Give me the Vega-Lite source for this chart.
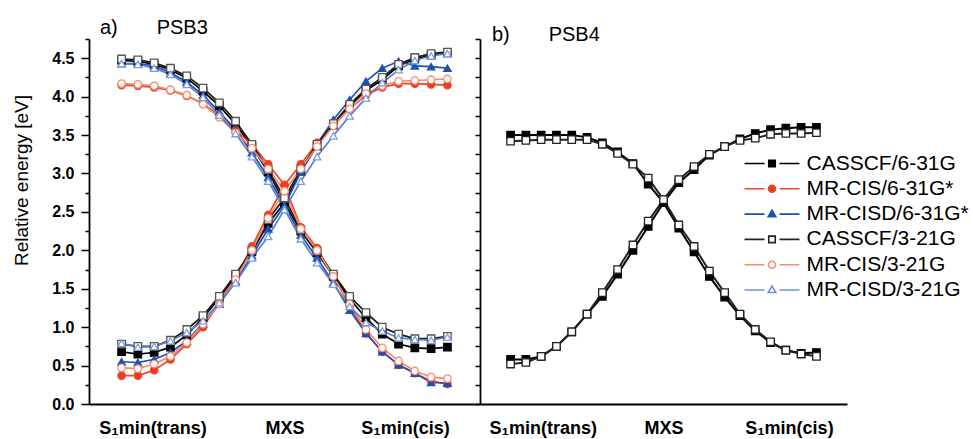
{
"$schema": "https://vega.github.io/schema/vega-lite/v6.json",
"padding": {"left": 12, "top": 18, "right": 5, "bottom": 5},
"config": {
  "font": "Liberation Sans",
  "view": {"stroke": null},
  "axis": {"grid": false, "domainColor": "#000", "domainWidth": 1.8, "tickColor": "#000", "tickWidth": 1.5, "labelColor": "#000", "titleColor": "#000", "labelFont": "Liberation Sans", "titleFont": "Liberation Sans"},
  "title": {"fontSize": 20, "fontWeight": "normal", "color": "#000", "anchor": "start", "frame": "group", "font": "Liberation Sans"},
  "legend": {"orient": "none", "legendX": 259, "legendY": 114, "padding": 0, "labelFontSize": 21, "labelFont": "Liberation Sans", "labelColor": "#000", "symbolSize": 100, "symbolStrokeWidth": 1.6, "symbolOffset": 22.5, "labelOffset": 24, "rowPadding": 3.3, "labelLimit": 300}
},
"datasets": {
"a": [
{"m":"CASSCF/6-31G","c":"A","i":0,"e":4.47},{"m":"CASSCF/6-31G","c":"A","i":1,"e":4.46},{"m":"CASSCF/6-31G","c":"A","i":2,"e":4.42},{"m":"CASSCF/6-31G","c":"A","i":3,"e":4.35},{"m":"CASSCF/6-31G","c":"A","i":4,"e":4.24},{"m":"CASSCF/6-31G","c":"A","i":5,"e":4.07},{"m":"CASSCF/6-31G","c":"A","i":6,"e":3.88},{"m":"CASSCF/6-31G","c":"A","i":7,"e":3.64},{"m":"CASSCF/6-31G","c":"A","i":8,"e":3.35},{"m":"CASSCF/6-31G","c":"A","i":9,"e":3.02},{"m":"CASSCF/6-31G","c":"A","i":10,"e":2.62},{"m":"CASSCF/6-31G","c":"A","i":11,"e":2.25},{"m":"CASSCF/6-31G","c":"A","i":12,"e":1.97},{"m":"CASSCF/6-31G","c":"A","i":13,"e":1.66},{"m":"CASSCF/6-31G","c":"A","i":14,"e":1.37},{"m":"CASSCF/6-31G","c":"A","i":15,"e":1.12},{"m":"CASSCF/6-31G","c":"A","i":16,"e":0.91},{"m":"CASSCF/6-31G","c":"A","i":17,"e":0.78},{"m":"CASSCF/6-31G","c":"A","i":18,"e":0.73},{"m":"CASSCF/6-31G","c":"A","i":19,"e":0.72},{"m":"CASSCF/6-31G","c":"A","i":20,"e":0.74},
{"m":"CASSCF/6-31G","c":"B","i":0,"e":0.68},{"m":"CASSCF/6-31G","c":"B","i":1,"e":0.65},{"m":"CASSCF/6-31G","c":"B","i":2,"e":0.67},{"m":"CASSCF/6-31G","c":"B","i":3,"e":0.74},{"m":"CASSCF/6-31G","c":"B","i":4,"e":0.90},{"m":"CASSCF/6-31G","c":"B","i":5,"e":1.12},{"m":"CASSCF/6-31G","c":"B","i":6,"e":1.38},{"m":"CASSCF/6-31G","c":"B","i":7,"e":1.67},{"m":"CASSCF/6-31G","c":"B","i":8,"e":1.98},{"m":"CASSCF/6-31G","c":"B","i":9,"e":2.35},{"m":"CASSCF/6-31G","c":"B","i":10,"e":2.62},{"m":"CASSCF/6-31G","c":"B","i":11,"e":3.03},{"m":"CASSCF/6-31G","c":"B","i":12,"e":3.36},{"m":"CASSCF/6-31G","c":"B","i":13,"e":3.63},{"m":"CASSCF/6-31G","c":"B","i":14,"e":3.88},{"m":"CASSCF/6-31G","c":"B","i":15,"e":4.08},{"m":"CASSCF/6-31G","c":"B","i":16,"e":4.22},{"m":"CASSCF/6-31G","c":"B","i":17,"e":4.40},{"m":"CASSCF/6-31G","c":"B","i":18,"e":4.49},{"m":"CASSCF/6-31G","c":"B","i":19,"e":4.54},{"m":"CASSCF/6-31G","c":"B","i":20,"e":4.57},
{"m":"MR-CIS/6-31G*","c":"A","i":0,"e":4.15},{"m":"MR-CIS/6-31G*","c":"A","i":1,"e":4.14},{"m":"MR-CIS/6-31G*","c":"A","i":2,"e":4.12},{"m":"MR-CIS/6-31G*","c":"A","i":3,"e":4.08},{"m":"MR-CIS/6-31G*","c":"A","i":4,"e":4.01},{"m":"MR-CIS/6-31G*","c":"A","i":5,"e":3.91},{"m":"MR-CIS/6-31G*","c":"A","i":6,"e":3.75},{"m":"MR-CIS/6-31G*","c":"A","i":7,"e":3.56},{"m":"MR-CIS/6-31G*","c":"A","i":8,"e":3.38},{"m":"MR-CIS/6-31G*","c":"A","i":9,"e":3.12},{"m":"MR-CIS/6-31G*","c":"A","i":10,"e":2.85},{"m":"MR-CIS/6-31G*","c":"A","i":11,"e":2.30},{"m":"MR-CIS/6-31G*","c":"A","i":12,"e":2.03},{"m":"MR-CIS/6-31G*","c":"A","i":13,"e":1.66},{"m":"MR-CIS/6-31G*","c":"A","i":14,"e":1.28},{"m":"MR-CIS/6-31G*","c":"A","i":15,"e":0.92},{"m":"MR-CIS/6-31G*","c":"A","i":16,"e":0.68},{"m":"MR-CIS/6-31G*","c":"A","i":17,"e":0.51},{"m":"MR-CIS/6-31G*","c":"A","i":18,"e":0.40},{"m":"MR-CIS/6-31G*","c":"A","i":19,"e":0.30},{"m":"MR-CIS/6-31G*","c":"A","i":20,"e":0.26},
{"m":"MR-CIS/6-31G*","c":"B","i":0,"e":0.37},{"m":"MR-CIS/6-31G*","c":"B","i":1,"e":0.37},{"m":"MR-CIS/6-31G*","c":"B","i":2,"e":0.44},{"m":"MR-CIS/6-31G*","c":"B","i":3,"e":0.58},{"m":"MR-CIS/6-31G*","c":"B","i":4,"e":0.78},{"m":"MR-CIS/6-31G*","c":"B","i":5,"e":1.00},{"m":"MR-CIS/6-31G*","c":"B","i":6,"e":1.32},{"m":"MR-CIS/6-31G*","c":"B","i":7,"e":1.64},{"m":"MR-CIS/6-31G*","c":"B","i":8,"e":2.05},{"m":"MR-CIS/6-31G*","c":"B","i":9,"e":2.46},{"m":"MR-CIS/6-31G*","c":"B","i":10,"e":2.85},{"m":"MR-CIS/6-31G*","c":"B","i":11,"e":3.12},{"m":"MR-CIS/6-31G*","c":"B","i":12,"e":3.40},{"m":"MR-CIS/6-31G*","c":"B","i":13,"e":3.65},{"m":"MR-CIS/6-31G*","c":"B","i":14,"e":3.84},{"m":"MR-CIS/6-31G*","c":"B","i":15,"e":4.02},{"m":"MR-CIS/6-31G*","c":"B","i":16,"e":4.12},{"m":"MR-CIS/6-31G*","c":"B","i":17,"e":4.17},{"m":"MR-CIS/6-31G*","c":"B","i":18,"e":4.17},{"m":"MR-CIS/6-31G*","c":"B","i":19,"e":4.16},{"m":"MR-CIS/6-31G*","c":"B","i":20,"e":4.15},
{"m":"MR-CISD/6-31G*","c":"A","i":0,"e":4.43},{"m":"MR-CISD/6-31G*","c":"A","i":1,"e":4.43},{"m":"MR-CISD/6-31G*","c":"A","i":2,"e":4.40},{"m":"MR-CISD/6-31G*","c":"A","i":3,"e":4.31},{"m":"MR-CISD/6-31G*","c":"A","i":4,"e":4.19},{"m":"MR-CISD/6-31G*","c":"A","i":5,"e":4.02},{"m":"MR-CISD/6-31G*","c":"A","i":6,"e":3.80},{"m":"MR-CISD/6-31G*","c":"A","i":7,"e":3.57},{"m":"MR-CISD/6-31G*","c":"A","i":8,"e":3.27},{"m":"MR-CISD/6-31G*","c":"A","i":9,"e":2.95},{"m":"MR-CISD/6-31G*","c":"A","i":10,"e":2.58},{"m":"MR-CISD/6-31G*","c":"A","i":11,"e":2.20},{"m":"MR-CISD/6-31G*","c":"A","i":12,"e":1.90},{"m":"MR-CISD/6-31G*","c":"A","i":13,"e":1.58},{"m":"MR-CISD/6-31G*","c":"A","i":14,"e":1.22},{"m":"MR-CISD/6-31G*","c":"A","i":15,"e":0.92},{"m":"MR-CISD/6-31G*","c":"A","i":16,"e":0.68},{"m":"MR-CISD/6-31G*","c":"A","i":17,"e":0.51},{"m":"MR-CISD/6-31G*","c":"A","i":18,"e":0.40},{"m":"MR-CISD/6-31G*","c":"A","i":19,"e":0.28},{"m":"MR-CISD/6-31G*","c":"A","i":20,"e":0.27},
{"m":"MR-CISD/6-31G*","c":"B","i":0,"e":0.55},{"m":"MR-CISD/6-31G*","c":"B","i":1,"e":0.54},{"m":"MR-CISD/6-31G*","c":"B","i":2,"e":0.58},{"m":"MR-CISD/6-31G*","c":"B","i":3,"e":0.67},{"m":"MR-CISD/6-31G*","c":"B","i":4,"e":0.82},{"m":"MR-CISD/6-31G*","c":"B","i":5,"e":1.05},{"m":"MR-CISD/6-31G*","c":"B","i":6,"e":1.30},{"m":"MR-CISD/6-31G*","c":"B","i":7,"e":1.60},{"m":"MR-CISD/6-31G*","c":"B","i":8,"e":1.93},{"m":"MR-CISD/6-31G*","c":"B","i":9,"e":2.28},{"m":"MR-CISD/6-31G*","c":"B","i":10,"e":2.58},{"m":"MR-CISD/6-31G*","c":"B","i":11,"e":3.02},{"m":"MR-CISD/6-31G*","c":"B","i":12,"e":3.38},{"m":"MR-CISD/6-31G*","c":"B","i":13,"e":3.70},{"m":"MR-CISD/6-31G*","c":"B","i":14,"e":3.96},{"m":"MR-CISD/6-31G*","c":"B","i":15,"e":4.20},{"m":"MR-CISD/6-31G*","c":"B","i":16,"e":4.37},{"m":"MR-CISD/6-31G*","c":"B","i":17,"e":4.46},{"m":"MR-CISD/6-31G*","c":"B","i":18,"e":4.40},{"m":"MR-CISD/6-31G*","c":"B","i":19,"e":4.39},{"m":"MR-CISD/6-31G*","c":"B","i":20,"e":4.37},
{"m":"CASSCF/3-21G","c":"A","i":0,"e":4.49},{"m":"CASSCF/3-21G","c":"A","i":1,"e":4.48},{"m":"CASSCF/3-21G","c":"A","i":2,"e":4.44},{"m":"CASSCF/3-21G","c":"A","i":3,"e":4.37},{"m":"CASSCF/3-21G","c":"A","i":4,"e":4.27},{"m":"CASSCF/3-21G","c":"A","i":5,"e":4.11},{"m":"CASSCF/3-21G","c":"A","i":6,"e":3.92},{"m":"CASSCF/3-21G","c":"A","i":7,"e":3.68},{"m":"CASSCF/3-21G","c":"A","i":8,"e":3.38},{"m":"CASSCF/3-21G","c":"A","i":9,"e":3.05},{"m":"CASSCF/3-21G","c":"A","i":10,"e":2.68},{"m":"CASSCF/3-21G","c":"A","i":11,"e":2.27},{"m":"CASSCF/3-21G","c":"A","i":12,"e":1.99},{"m":"CASSCF/3-21G","c":"A","i":13,"e":1.69},{"m":"CASSCF/3-21G","c":"A","i":14,"e":1.40},{"m":"CASSCF/3-21G","c":"A","i":15,"e":1.19},{"m":"CASSCF/3-21G","c":"A","i":16,"e":1.00},{"m":"CASSCF/3-21G","c":"A","i":17,"e":0.91},{"m":"CASSCF/3-21G","c":"A","i":18,"e":0.85},{"m":"CASSCF/3-21G","c":"A","i":19,"e":0.85},{"m":"CASSCF/3-21G","c":"A","i":20,"e":0.88},
{"m":"CASSCF/3-21G","c":"B","i":0,"e":0.78},{"m":"CASSCF/3-21G","c":"B","i":1,"e":0.75},{"m":"CASSCF/3-21G","c":"B","i":2,"e":0.75},{"m":"CASSCF/3-21G","c":"B","i":3,"e":0.83},{"m":"CASSCF/3-21G","c":"B","i":4,"e":0.97},{"m":"CASSCF/3-21G","c":"B","i":5,"e":1.15},{"m":"CASSCF/3-21G","c":"B","i":6,"e":1.40},{"m":"CASSCF/3-21G","c":"B","i":7,"e":1.69},{"m":"CASSCF/3-21G","c":"B","i":8,"e":2.00},{"m":"CASSCF/3-21G","c":"B","i":9,"e":2.40},{"m":"CASSCF/3-21G","c":"B","i":10,"e":2.68},{"m":"CASSCF/3-21G","c":"B","i":11,"e":3.06},{"m":"CASSCF/3-21G","c":"B","i":12,"e":3.38},{"m":"CASSCF/3-21G","c":"B","i":13,"e":3.65},{"m":"CASSCF/3-21G","c":"B","i":14,"e":3.90},{"m":"CASSCF/3-21G","c":"B","i":15,"e":4.10},{"m":"CASSCF/3-21G","c":"B","i":16,"e":4.25},{"m":"CASSCF/3-21G","c":"B","i":17,"e":4.42},{"m":"CASSCF/3-21G","c":"B","i":18,"e":4.51},{"m":"CASSCF/3-21G","c":"B","i":19,"e":4.56},{"m":"CASSCF/3-21G","c":"B","i":20,"e":4.58},
{"m":"MR-CIS/3-21G","c":"A","i":0,"e":4.17},{"m":"MR-CIS/3-21G","c":"A","i":1,"e":4.16},{"m":"MR-CIS/3-21G","c":"A","i":2,"e":4.14},{"m":"MR-CIS/3-21G","c":"A","i":3,"e":4.09},{"m":"MR-CIS/3-21G","c":"A","i":4,"e":4.02},{"m":"MR-CIS/3-21G","c":"A","i":5,"e":3.90},{"m":"MR-CIS/3-21G","c":"A","i":6,"e":3.73},{"m":"MR-CIS/3-21G","c":"A","i":7,"e":3.53},{"m":"MR-CIS/3-21G","c":"A","i":8,"e":3.33},{"m":"MR-CIS/3-21G","c":"A","i":9,"e":3.06},{"m":"MR-CIS/3-21G","c":"A","i":10,"e":2.77},{"m":"MR-CIS/3-21G","c":"A","i":11,"e":2.28},{"m":"MR-CIS/3-21G","c":"A","i":12,"e":2.00},{"m":"MR-CIS/3-21G","c":"A","i":13,"e":1.66},{"m":"MR-CIS/3-21G","c":"A","i":14,"e":1.30},{"m":"MR-CIS/3-21G","c":"A","i":15,"e":0.97},{"m":"MR-CIS/3-21G","c":"A","i":16,"e":0.73},{"m":"MR-CIS/3-21G","c":"A","i":17,"e":0.56},{"m":"MR-CIS/3-21G","c":"A","i":18,"e":0.43},{"m":"MR-CIS/3-21G","c":"A","i":19,"e":0.35},{"m":"MR-CIS/3-21G","c":"A","i":20,"e":0.33},
{"m":"MR-CIS/3-21G","c":"B","i":0,"e":0.47},{"m":"MR-CIS/3-21G","c":"B","i":1,"e":0.46},{"m":"MR-CIS/3-21G","c":"B","i":2,"e":0.52},{"m":"MR-CIS/3-21G","c":"B","i":3,"e":0.62},{"m":"MR-CIS/3-21G","c":"B","i":4,"e":0.80},{"m":"MR-CIS/3-21G","c":"B","i":5,"e":1.04},{"m":"MR-CIS/3-21G","c":"B","i":6,"e":1.30},{"m":"MR-CIS/3-21G","c":"B","i":7,"e":1.62},{"m":"MR-CIS/3-21G","c":"B","i":8,"e":2.00},{"m":"MR-CIS/3-21G","c":"B","i":9,"e":2.42},{"m":"MR-CIS/3-21G","c":"B","i":10,"e":2.77},{"m":"MR-CIS/3-21G","c":"B","i":11,"e":3.06},{"m":"MR-CIS/3-21G","c":"B","i":12,"e":3.35},{"m":"MR-CIS/3-21G","c":"B","i":13,"e":3.62},{"m":"MR-CIS/3-21G","c":"B","i":14,"e":3.84},{"m":"MR-CIS/3-21G","c":"B","i":15,"e":4.04},{"m":"MR-CIS/3-21G","c":"B","i":16,"e":4.14},{"m":"MR-CIS/3-21G","c":"B","i":17,"e":4.20},{"m":"MR-CIS/3-21G","c":"B","i":18,"e":4.21},{"m":"MR-CIS/3-21G","c":"B","i":19,"e":4.22},{"m":"MR-CIS/3-21G","c":"B","i":20,"e":4.23},
{"m":"MR-CISD/3-21G","c":"A","i":0,"e":4.43},{"m":"MR-CISD/3-21G","c":"A","i":1,"e":4.42},{"m":"MR-CISD/3-21G","c":"A","i":2,"e":4.37},{"m":"MR-CISD/3-21G","c":"A","i":3,"e":4.29},{"m":"MR-CISD/3-21G","c":"A","i":4,"e":4.16},{"m":"MR-CISD/3-21G","c":"A","i":5,"e":3.99},{"m":"MR-CISD/3-21G","c":"A","i":6,"e":3.76},{"m":"MR-CISD/3-21G","c":"A","i":7,"e":3.52},{"m":"MR-CISD/3-21G","c":"A","i":8,"e":3.22},{"m":"MR-CISD/3-21G","c":"A","i":9,"e":2.90},{"m":"MR-CISD/3-21G","c":"A","i":10,"e":2.53},{"m":"MR-CISD/3-21G","c":"A","i":11,"e":2.15},{"m":"MR-CISD/3-21G","c":"A","i":12,"e":1.84},{"m":"MR-CISD/3-21G","c":"A","i":13,"e":1.56},{"m":"MR-CISD/3-21G","c":"A","i":14,"e":1.27},{"m":"MR-CISD/3-21G","c":"A","i":15,"e":1.06},{"m":"MR-CISD/3-21G","c":"A","i":16,"e":0.95},{"m":"MR-CISD/3-21G","c":"A","i":17,"e":0.86},{"m":"MR-CISD/3-21G","c":"A","i":18,"e":0.84},{"m":"MR-CISD/3-21G","c":"A","i":19,"e":0.83},{"m":"MR-CISD/3-21G","c":"A","i":20,"e":0.87},
{"m":"MR-CISD/3-21G","c":"B","i":0,"e":0.79},{"m":"MR-CISD/3-21G","c":"B","i":1,"e":0.74},{"m":"MR-CISD/3-21G","c":"B","i":2,"e":0.75},{"m":"MR-CISD/3-21G","c":"B","i":3,"e":0.82},{"m":"MR-CISD/3-21G","c":"B","i":4,"e":0.93},{"m":"MR-CISD/3-21G","c":"B","i":5,"e":1.08},{"m":"MR-CISD/3-21G","c":"B","i":6,"e":1.32},{"m":"MR-CISD/3-21G","c":"B","i":7,"e":1.58},{"m":"MR-CISD/3-21G","c":"B","i":8,"e":1.90},{"m":"MR-CISD/3-21G","c":"B","i":9,"e":2.18},{"m":"MR-CISD/3-21G","c":"B","i":10,"e":2.53},{"m":"MR-CISD/3-21G","c":"B","i":11,"e":2.90},{"m":"MR-CISD/3-21G","c":"B","i":12,"e":3.22},{"m":"MR-CISD/3-21G","c":"B","i":13,"e":3.49},{"m":"MR-CISD/3-21G","c":"B","i":14,"e":3.75},{"m":"MR-CISD/3-21G","c":"B","i":15,"e":3.98},{"m":"MR-CISD/3-21G","c":"B","i":16,"e":4.18},{"m":"MR-CISD/3-21G","c":"B","i":17,"e":4.35},{"m":"MR-CISD/3-21G","c":"B","i":18,"e":4.47},{"m":"MR-CISD/3-21G","c":"B","i":19,"e":4.53},{"m":"MR-CISD/3-21G","c":"B","i":20,"e":4.56}
],
"b": [
{"m":"CASSCF/6-31G","c":"A","i":0,"e":3.50},{"m":"CASSCF/6-31G","c":"A","i":1,"e":3.50},{"m":"CASSCF/6-31G","c":"A","i":2,"e":3.50},{"m":"CASSCF/6-31G","c":"A","i":3,"e":3.50},{"m":"CASSCF/6-31G","c":"A","i":4,"e":3.50},{"m":"CASSCF/6-31G","c":"A","i":5,"e":3.47},{"m":"CASSCF/6-31G","c":"A","i":6,"e":3.40},{"m":"CASSCF/6-31G","c":"A","i":7,"e":3.28},{"m":"CASSCF/6-31G","c":"A","i":8,"e":3.13},{"m":"CASSCF/6-31G","c":"A","i":9,"e":2.86},{"m":"CASSCF/6-31G","c":"A","i":10,"e":2.62},{"m":"CASSCF/6-31G","c":"A","i":11,"e":2.29},{"m":"CASSCF/6-31G","c":"A","i":12,"e":1.98},{"m":"CASSCF/6-31G","c":"A","i":13,"e":1.66},{"m":"CASSCF/6-31G","c":"A","i":14,"e":1.39},{"m":"CASSCF/6-31G","c":"A","i":15,"e":1.15},{"m":"CASSCF/6-31G","c":"A","i":16,"e":0.95},{"m":"CASSCF/6-31G","c":"A","i":17,"e":0.80},{"m":"CASSCF/6-31G","c":"A","i":18,"e":0.70},{"m":"CASSCF/6-31G","c":"A","i":19,"e":0.66},{"m":"CASSCF/6-31G","c":"A","i":20,"e":0.67},
{"m":"CASSCF/6-31G","c":"B","i":0,"e":0.58},{"m":"CASSCF/6-31G","c":"B","i":1,"e":0.58},{"m":"CASSCF/6-31G","c":"B","i":2,"e":0.62},{"m":"CASSCF/6-31G","c":"B","i":3,"e":0.75},{"m":"CASSCF/6-31G","c":"B","i":4,"e":0.94},{"m":"CASSCF/6-31G","c":"B","i":5,"e":1.17},{"m":"CASSCF/6-31G","c":"B","i":6,"e":1.40},{"m":"CASSCF/6-31G","c":"B","i":7,"e":1.69},{"m":"CASSCF/6-31G","c":"B","i":8,"e":2.00},{"m":"CASSCF/6-31G","c":"B","i":9,"e":2.31},{"m":"CASSCF/6-31G","c":"B","i":10,"e":2.62},{"m":"CASSCF/6-31G","c":"B","i":11,"e":2.88},{"m":"CASSCF/6-31G","c":"B","i":12,"e":3.05},{"m":"CASSCF/6-31G","c":"B","i":13,"e":3.24},{"m":"CASSCF/6-31G","c":"B","i":14,"e":3.35},{"m":"CASSCF/6-31G","c":"B","i":15,"e":3.45},{"m":"CASSCF/6-31G","c":"B","i":16,"e":3.52},{"m":"CASSCF/6-31G","c":"B","i":17,"e":3.57},{"m":"CASSCF/6-31G","c":"B","i":18,"e":3.59},{"m":"CASSCF/6-31G","c":"B","i":19,"e":3.60},{"m":"CASSCF/6-31G","c":"B","i":20,"e":3.60},
{"m":"CASSCF/3-21G","c":"A","i":0,"e":3.42},{"m":"CASSCF/3-21G","c":"A","i":1,"e":3.43},{"m":"CASSCF/3-21G","c":"A","i":2,"e":3.44},{"m":"CASSCF/3-21G","c":"A","i":3,"e":3.44},{"m":"CASSCF/3-21G","c":"A","i":4,"e":3.44},{"m":"CASSCF/3-21G","c":"A","i":5,"e":3.44},{"m":"CASSCF/3-21G","c":"A","i":6,"e":3.38},{"m":"CASSCF/3-21G","c":"A","i":7,"e":3.26},{"m":"CASSCF/3-21G","c":"A","i":8,"e":3.12},{"m":"CASSCF/3-21G","c":"A","i":9,"e":2.94},{"m":"CASSCF/3-21G","c":"A","i":10,"e":2.66},{"m":"CASSCF/3-21G","c":"A","i":11,"e":2.33},{"m":"CASSCF/3-21G","c":"A","i":12,"e":2.05},{"m":"CASSCF/3-21G","c":"A","i":13,"e":1.73},{"m":"CASSCF/3-21G","c":"A","i":14,"e":1.45},{"m":"CASSCF/3-21G","c":"A","i":15,"e":1.17},{"m":"CASSCF/3-21G","c":"A","i":16,"e":0.97},{"m":"CASSCF/3-21G","c":"A","i":17,"e":0.81},{"m":"CASSCF/3-21G","c":"A","i":18,"e":0.70},{"m":"CASSCF/3-21G","c":"A","i":19,"e":0.65},{"m":"CASSCF/3-21G","c":"A","i":20,"e":0.62},
{"m":"CASSCF/3-21G","c":"B","i":0,"e":0.52},{"m":"CASSCF/3-21G","c":"B","i":1,"e":0.54},{"m":"CASSCF/3-21G","c":"B","i":2,"e":0.62},{"m":"CASSCF/3-21G","c":"B","i":3,"e":0.75},{"m":"CASSCF/3-21G","c":"B","i":4,"e":0.94},{"m":"CASSCF/3-21G","c":"B","i":5,"e":1.17},{"m":"CASSCF/3-21G","c":"B","i":6,"e":1.45},{"m":"CASSCF/3-21G","c":"B","i":7,"e":1.75},{"m":"CASSCF/3-21G","c":"B","i":8,"e":2.07},{"m":"CASSCF/3-21G","c":"B","i":9,"e":2.38},{"m":"CASSCF/3-21G","c":"B","i":10,"e":2.66},{"m":"CASSCF/3-21G","c":"B","i":11,"e":2.92},{"m":"CASSCF/3-21G","c":"B","i":12,"e":3.09},{"m":"CASSCF/3-21G","c":"B","i":13,"e":3.25},{"m":"CASSCF/3-21G","c":"B","i":14,"e":3.35},{"m":"CASSCF/3-21G","c":"B","i":15,"e":3.43},{"m":"CASSCF/3-21G","c":"B","i":16,"e":3.46},{"m":"CASSCF/3-21G","c":"B","i":17,"e":3.51},{"m":"CASSCF/3-21G","c":"B","i":18,"e":3.52},{"m":"CASSCF/3-21G","c":"B","i":19,"e":3.52},{"m":"CASSCF/3-21G","c":"B","i":20,"e":3.53}
]
},
"hconcat": [
{
  "width": 391, "height": 365,
  "title": {"text": "a)\u00a0\u00a0\u00a0\u00a0\u00a0\u00a0\u00a0PSB3", "dx": 11, "offset": -7},
  "data": {"name": "a"},
  "encoding": {
    "x": {"field": "i", "type": "quantitative", "scale": {"domain": [-2, 22], "nice": false, "zero": false},
      "axis": {"title": null, "values": [1.9, 10, 17.4], "ticks": false, "labelExpr": "datum.value < 5 ? 'S\u2081min(trans)' : datum.value < 12 ? 'MXS' : 'S\u2081min(cis)'", "labelFontSize": 18, "labelFontWeight": "bold", "labelPadding": 15, "labelFlush": false, "labelOverlap": false}},
    "y": {"field": "e", "type": "quantitative", "scale": {"domain": [0, 4.75], "nice": false},
      "axis": {"title": "Relative energy [eV]", "titleFontSize": 19, "titleFontWeight": "normal", "titlePadding": 20, "titleY": 141,
        "values": [0,0.25,0.5,0.75,1,1.25,1.5,1.75,2,2.25,2.5,2.75,3,3.25,3.5,3.75,4,4.25,4.5,4.75],
        "labelExpr": "round(datum.value*4) % 2 == 0 ? format(datum.value, '.1f') : ''",
        "tickSize": {"condition": {"test": "round(datum.value*4) % 2 == 0", "value": 8}, "value": 4},
        "labelFontSize": 16, "labelFontWeight": "bold", "labelPadding": 7, "labelOverlap": false, "labelFlush": false}}
  },
  "layer": [
    {"mark": {"type": "line", "strokeWidth": 1.7},
     "encoding": {
       "color": {"field": "m", "type": "nominal", "scale": {"domain": ["CASSCF/6-31G","MR-CIS/6-31G*","MR-CISD/6-31G*","CASSCF/3-21G","MR-CIS/3-21G","MR-CISD/3-21G"], "range": ["#000000","#ee4629","#1f4fb2","#1a1a1a","#f5896a","#5a80d4"]}, "legend": null},
       "detail": {"field": "c"}
     }},
    {"mark": {"type": "point", "filled": true, "size": 55, "strokeWidth": 1.3, "opacity": 1},
     "encoding": {
       "stroke": {"field": "m", "type": "nominal", "scale": {"domain": ["CASSCF/6-31G","MR-CIS/6-31G*","MR-CISD/6-31G*","CASSCF/3-21G","MR-CIS/3-21G","MR-CISD/3-21G"], "range": ["#000000","#ee4629","#1f4fb2","#555555","#f58f70","#7b9de2"]}, "legend": null},
       "fill": {"field": "m", "type": "nominal", "scale": {"domain": ["CASSCF/6-31G","MR-CIS/6-31G*","MR-CISD/6-31G*","CASSCF/3-21G","MR-CIS/3-21G","MR-CISD/3-21G"], "range": ["#000000","#ee3b24","#1f4fb2","#ffffff","#ffffff","#ffffff"]}, "legend": null},
       "shape": {"field": "m", "type": "nominal", "scale": {"domain": ["CASSCF/6-31G","MR-CIS/6-31G*","MR-CISD/6-31G*","CASSCF/3-21G","MR-CIS/3-21G","MR-CISD/3-21G"], "range": ["square","circle","triangle-up","square","circle","triangle-up"]}, "legend": null}
     }}
  ]
},
{
  "width": 367, "height": 365,
  "title": {"text": "b)\u00a0\u00a0\u00a0\u00a0\u00a0\u00a0\u00a0PSB4", "dx": 12, "offset": -7},
  "data": {"name": "b"},
  "encoding": {
    "x": {"field": "i", "type": "quantitative", "scale": {"domain": [-2, 22], "nice": false, "zero": false},
      "axis": {"title": null, "values": [2.1, 10, 18.2], "ticks": false, "labelExpr": "datum.value < 5 ? 'S\u2081min(trans)' : datum.value < 12 ? 'MXS' : 'S\u2081min(cis)'", "labelFontSize": 18, "labelFontWeight": "bold", "labelPadding": 15, "labelFlush": false, "labelOverlap": false}},
    "y": {"field": "e", "type": "quantitative", "scale": {"domain": [0, 4.75], "nice": false},
      "axis": {"title": null, "labels": false, "tickSize": 5,
        "values": [0,0.25,0.5,0.75,1,1.25,1.5,1.75,2,2.25,2.5,2.75,3,3.25,3.5,3.75,4,4.25,4.5,4.75]}}
  },
  "layer": [
    {"mark": {"type": "line", "strokeWidth": 2},
     "encoding": {
       "stroke": {"field": "m", "type": "nominal", "title": null, "scale": {"domain": ["CASSCF/6-31G","MR-CIS/6-31G*","MR-CISD/6-31G*","CASSCF/3-21G","MR-CIS/3-21G","MR-CISD/3-21G"], "range": ["#000000","#ee4629","#1f4fb2","#222222","#f58f70","#6f92dc"]}},
       "detail": {"field": "c"}
     }},
    {"mark": {"type": "square", "filled": true, "size": 55, "strokeWidth": 1.3, "opacity": 1},
     "encoding": {
       "stroke": {"field": "m", "type": "nominal", "title": null},
       "fill": {"field": "m", "type": "nominal", "title": null, "scale": {"domain": ["CASSCF/6-31G","MR-CIS/6-31G*","MR-CISD/6-31G*","CASSCF/3-21G","MR-CIS/3-21G","MR-CISD/3-21G"], "range": ["#000000","#ee3b24","#1f4fb2","#ffffff","#ffffff","#ffffff"]}}
     }},
    {"transform": [{"filter": "datum.i < 0"}],
     "mark": {"type": "point", "filled": true, "opacity": 1},
     "encoding": {
       "stroke": {"field": "m", "type": "nominal", "title": null},
       "fill": {"field": "m", "type": "nominal", "title": null},
       "shape": {"field": "m", "type": "nominal", "title": null, "scale": {"domain": ["CASSCF/6-31G","MR-CIS/6-31G*","MR-CISD/6-31G*","CASSCF/3-21G","MR-CIS/3-21G","MR-CISD/3-21G"], "range": [
         "M-5.5,0H-1.5M1.5,0H5.5M-0.65,-0.65H0.65V0.65H-0.65Z",
         "M-5.5,0H-1.5M1.5,0H5.5M0.7,0A0.7,0.7,0,1,1,-0.7,0A0.7,0.7,0,1,1,0.7,0Z",
         "M-5.5,0H-1.5M1.5,0H5.5M0,-0.8L0.75,0.5L-0.75,0.5Z",
         "M-5.5,0H-1.5M1.5,0H5.5M-0.65,-0.65H0.65V0.65H-0.65Z",
         "M-5.5,0H-1.5M1.5,0H5.5M0.7,0A0.7,0.7,0,1,1,-0.7,0A0.7,0.7,0,1,1,0.7,0Z",
         "M-5.5,0H-1.5M1.5,0H5.5M0,-0.8L0.75,0.5L-0.75,0.5Z"]}}
     }}
  ]
}
],
"spacing": 0,
"bounds": "flush",
"resolve": {"scale": {"x": "independent", "y": "independent", "color": "independent", "stroke": "independent", "fill": "independent", "shape": "independent"}}
}
